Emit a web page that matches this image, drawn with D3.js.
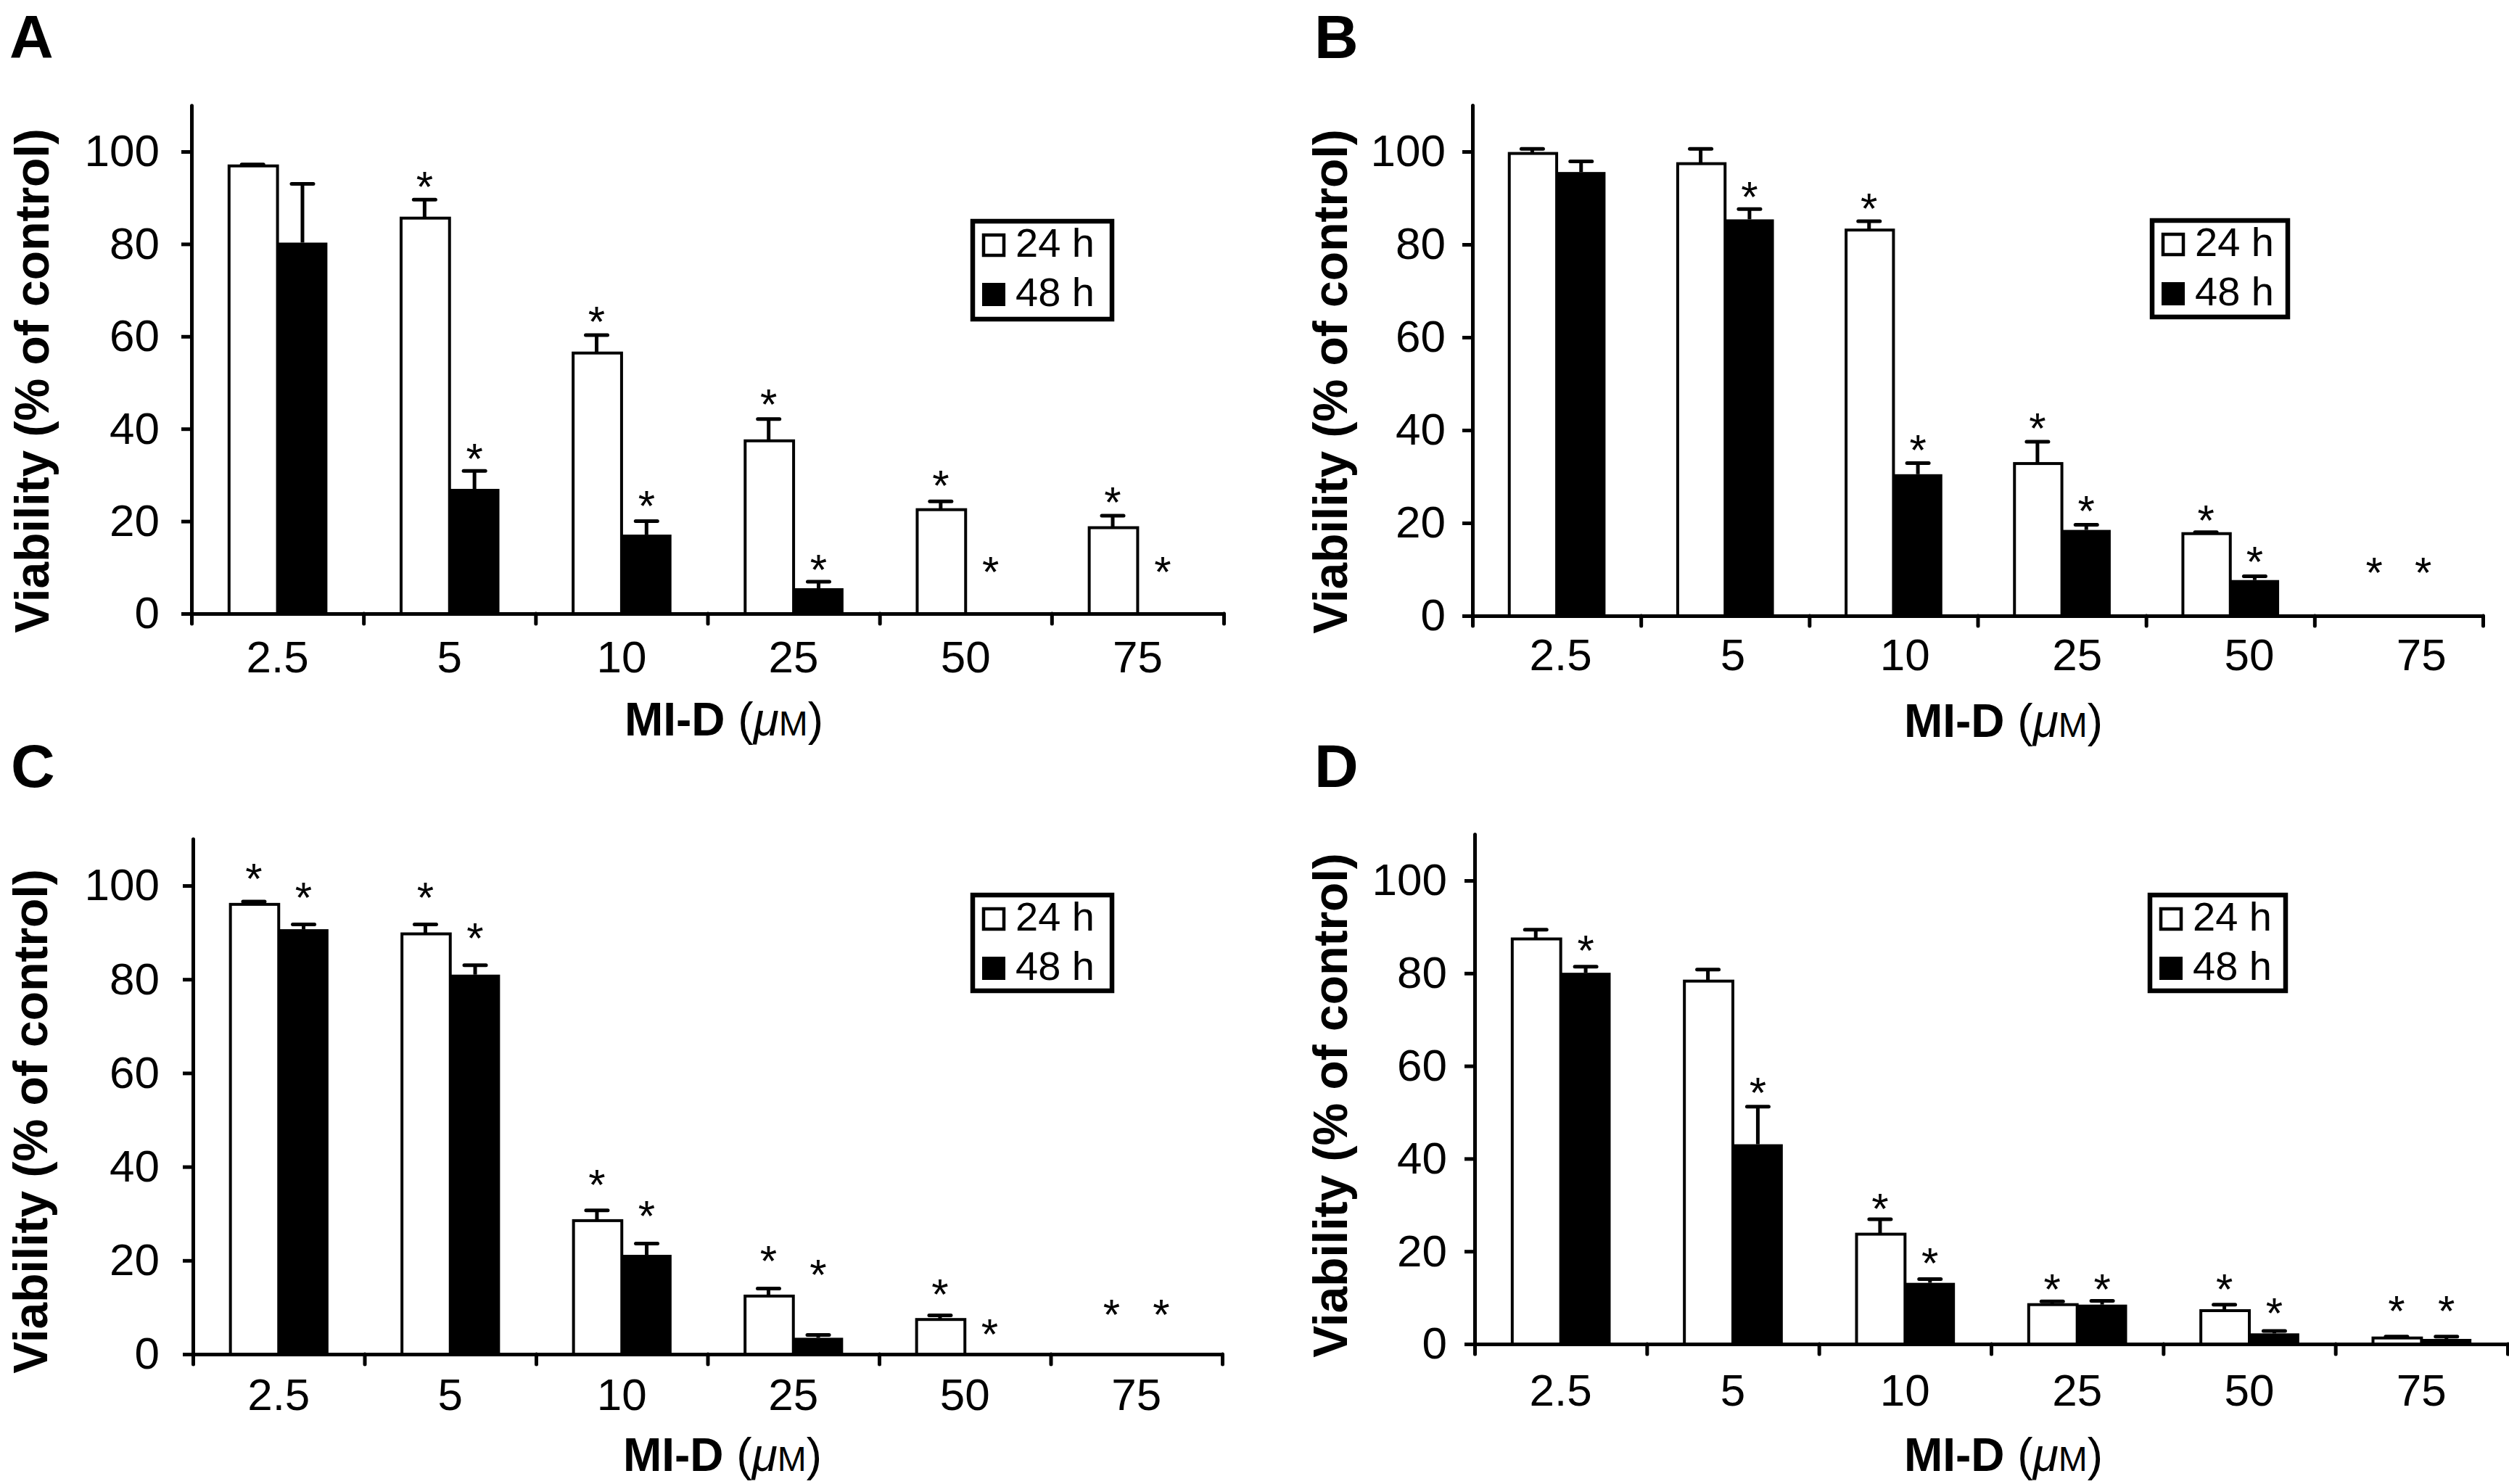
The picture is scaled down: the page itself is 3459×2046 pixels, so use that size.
<!DOCTYPE html>
<html><head><meta charset="utf-8">
<script src="https://cdn.jsdelivr.net/npm/d3@7"></script>
<style>html,body{margin:0;padding:0;background:#fff;} svg{display:block;}</style>
</head><body>
<svg id="chart" width="3459" height="2046"></svg>
<script>
// ---------------- data ----------------
const categories = ["2.5", "5", "10", "25", "50", "75"];
const seriesNames = ["24 h", "48 h"];
const yTicks = [0, 20, 40, 60, 80, 100];
const panelLetters = ["A", "B", "C", "D"];

// Panel A
const A_24 = [96.9, 85.6, 56.4, 37.4, 22.5, 18.6];
const A_24_err = [0.3, 4.0, 3.9, 4.7, 1.8, 2.6];
const A_48 = [80.3, 27.0, 17.1, 5.5, 0, 0];
const A_48_err = [12.7, 3.9, 2.9, 1.4, 0, 0];
const A_24_star = [null, 94.8, 65.5, 47.6, 30.1, 26.4];
const A_48_star = [null, 35.8, 25.6, 11.8, 11.3, 11.3];

// Panel B
const B_24 = [99.6, 97.4, 83.1, 32.8, 17.7, 0];
const B_24_err = [1.0, 3.2, 1.9, 4.7, 0.3, 0];
const B_48 = [95.6, 85.4, 30.5, 18.5, 7.7, 0];
const B_48_err = [2.3, 2.2, 2.4, 1.1, 0.8, 0];
const B_24_star = [null, null, 90.0, 42.7, 22.8, 11.7];
const B_48_star = [null, 92.5, 38.1, 24.9, 13.9, 11.7];

// Panel C
const C_24 = [96.0, 89.7, 28.5, 12.4, 7.4, 0];
const C_24_err = [0.6, 2.0, 2.2, 1.6, 0.9, 0];
const C_48 = [90.7, 81.0, 21.2, 3.5, 0, 0];
const C_48_err = [1.0, 2.0, 2.4, 0.6, 0, 0];
const C_24_star = [103.8, 99.7, 38.4, 22.2, 15.1, 10.8];
const C_48_star = [99.7, 91.1, 31.8, 19.2, 6.5, 10.8];

// Panel D
const D_24 = [87.4, 78.3, 23.7, 8.5, 7.2, 1.3];
const D_24_err = [2.0, 2.5, 3.2, 0.7, 1.3, 0.3];
const D_48 = [80.1, 43.1, 13.2, 8.5, 2.3, 1.1];
const D_48_err = [1.3, 8.1, 0.8, 0.8, 0.5, 0.5];
const D_24_star = [null, null, 31.5, 14.1, 14.1, 9.5];
const D_48_star = [87.3, 56.6, 19.8, 14.1, 9.0, 9.5];

const panelData = [
  {v: [A_24, A_48], e: [A_24_err, A_48_err], s: [A_24_star, A_48_star]},
  {v: [B_24, B_48], e: [B_24_err, B_48_err], s: [B_24_star, B_48_star]},
  {v: [C_24, C_48], e: [C_24_err, C_48_err], s: [C_24_star, C_48_star]},
  {v: [D_24, D_48], e: [D_24_err, D_48_err], s: [D_24_star, D_48_star]}
];

// ---------------- layout ----------------
const FONT = "'Liberation Sans', Arial, Helvetica, sans-serif";
const layouts = [
  {lx: 13, ly: 80, x0: 264, x1: 1687, lab0: 264, lab1: 1687, yZero: 846, y100: 209, ylabX: 67, ylabY: 525, tickGap: 44, xTickBase: 927, xTitleX: 998, xTitleY: 1014, legend: [1338, 302, 198, 141]},
  {lx: 1812, ly: 80, x0: 2030, x1: 3423, lab0: 2033, lab1: 3457, yZero: 849, y100: 209, ylabX: 1857, ylabY: 526, tickGap: 37, xTickBase: 924, xTitleX: 2762, xTitleY: 1016, legend: [2964, 301, 193, 139]},
  {lx: 15, ly: 1085, x0: 266, x1: 1685, lab0: 266, lab1: 1685, yZero: 1867, y100: 1221, ylabX: 65, ylabY: 1546, tickGap: 46, xTickBase: 1944, xTitleX: 996, xTitleY: 2028, legend: [1338, 1231, 198, 138]},
  {lx: 1812, ly: 1085, x0: 2033, x1: 3457, lab0: 2033, lab1: 3457, yZero: 1853, y100: 1214, ylabX: 1857, ylabY: 1524, tickGap: 38, xTickBase: 1938, xTitleX: 2762, xTitleY: 2028, legend: [2961, 1231, 193, 138]}
];

const svg = d3.select("#chart");
svg.append("rect").attr("width", 3459).attr("height", 2046).attr("fill", "#fff");

const fills = ["#fff", "#000"];

layouts.forEach((L, pi) => {
  const D = panelData[pi];
  const g = svg.append("g");
  const unit = (L.yZero - L.y100) / 100;
  const y = d3.scaleLinear().domain([0, 110]).range([L.yZero, L.yZero - 110 * unit]);
  const band = d3.scaleBand().domain(categories).range([L.x0, L.x1]);
  const inner = d3.scaleBand().domain(seriesNames).range([0, band.bandwidth()]).paddingInner(0).paddingOuter(0.724);
  const labBand = d3.scaleBand().domain(categories).range([L.lab0, L.lab1]);
  const bound = d3.scaleLinear().domain([0, categories.length]).range([L.x0, L.x1]);

  // panel letter
  g.append("text").attr("x", L.lx).attr("y", L.ly).text(panelLetters[pi])
    .attr("font-family", FONT).attr("font-weight", "bold").attr("font-size", 84);

  // bars
  seriesNames.forEach((s, si) => {
    const vals = D.v[si];
    const bars = categories.map((c, ci) => ({c, v: vals[ci], e: D.e[si][ci], st: D.s[si][ci]}));
    bars.filter(d => d.v > 0).forEach(d => {
      g.append("rect")
        .attr("x", band(d.c) + inner(s) + (si === 0 ? 2 : 0))
        .attr("width", inner.bandwidth() - (si === 0 ? 2 : 0))
        .attr("y", y(d.v))
        .attr("height", y(0) - y(d.v))
        .attr("fill", fills[si])
        .attr("stroke", "#000")
        .attr("stroke-width", si === 0 ? 4 : 0);
    });
    // error bars
    bars.filter(d => d.v > 0 && d.e > 0).forEach(d => {
      const cx = band(d.c) + inner(s) + inner.bandwidth() / 2;
      g.append("line").attr("x1", cx).attr("x2", cx).attr("y1", y(d.v)).attr("y2", y(d.v + d.e))
        .attr("stroke", "#000").attr("stroke-width", 5);
      g.append("line").attr("x1", cx - 15).attr("x2", cx + 15).attr("y1", y(d.v + d.e)).attr("y2", y(d.v + d.e))
        .attr("stroke", "#000").attr("stroke-width", 5).attr("stroke-linecap", "round");
    });
    // significance stars
    bars.filter(d => d.st !== null).forEach(d => {
      const cx = band(d.c) + inner(s) + inner.bandwidth() / 2;
      g.append("text").attr("x", cx).attr("y", y(d.st) + 0.59 * 60)
        .attr("text-anchor", "middle").attr("font-family", FONT).attr("font-size", 60).text("*");
    });
  });

  // y axis
  const yAxis = g.append("g").attr("transform", `translate(${L.x0},0)`)
    .call(d3.axisLeft(y).tickValues(yTicks).tickSize(14).tickSizeOuter(0).tickPadding(L.tickGap - 14));
  yAxis.select(".domain").attr("stroke-width", 5).attr("stroke-linecap", "round");
  yAxis.selectAll(".tick line").attr("stroke-width", 5);
  yAxis.selectAll(".tick text").attr("font-family", FONT).attr("font-size", 62).attr("fill", "#000");

  // x axis (boundary ticks)
  const xAxis = g.append("g").attr("transform", `translate(0,${L.yZero})`)
    .call(d3.axisBottom(bound).tickValues(d3.range(categories.length + 1)).tickFormat(() => "").tickSize(14).tickSizeOuter(0));
  xAxis.select(".domain").attr("stroke-width", 5);
  xAxis.selectAll(".tick line").attr("stroke-width", 5).attr("stroke-linecap", "round");

  // category labels
  const xLab = g.append("g").attr("transform", `translate(0,${L.xTickBase})`)
    .call(d3.axisBottom(labBand).tickSize(0));
  xLab.select(".domain").remove();
  xLab.selectAll(".tick text").attr("y", 0).attr("dy", 0)
    .attr("font-family", FONT).attr("font-size", 62).attr("fill", "#000");

  // y title
  g.append("text").attr("transform", `translate(${L.ylabX},${L.ylabY}) rotate(-90)`)
    .attr("text-anchor", "middle").attr("font-family", FONT).attr("font-weight", "bold").attr("font-size", 66)
    .text("Viability (% of control)");

  // x title
  const xt = g.append("text").attr("x", L.xTitleX).attr("y", L.xTitleY).attr("text-anchor", "middle")
    .attr("font-family", FONT).attr("font-size", 64);
  xt.append("tspan").attr("font-weight", "bold").text("MI-D");
  xt.append("tspan").text(" (");
  xt.append("tspan").attr("font-style", "italic").text("\u03bc");
  xt.append("tspan").attr("font-size", 48).text("M");
  xt.append("tspan").text(")");

  // legend
  const [bx, by, bw, bh] = L.legend;
  const lg = g.append("g");
  lg.append("rect").attr("x", bx + 3).attr("y", by + 3).attr("width", bw - 6).attr("height", bh - 6)
    .attr("fill", "#fff").attr("stroke", "#000").attr("stroke-width", 6.5);
  seriesNames.forEach((s, si) => {
    const sy = by + 20 + si * 68;
    lg.append("rect").attr("x", bx + 18).attr("y", sy + 2).attr("width", 28).attr("height", 28)
      .attr("fill", fills[si]).attr("stroke", "#000").attr("stroke-width", si === 0 ? 4.5 : 0);
    if (si === 1) lg.select("rect:last-child").attr("x", bx + 16).attr("y", sy).attr("width", 32).attr("height", 32);
    lg.append("text").attr("x", bx + 62).attr("y", sy + 32).attr("font-family", FONT).attr("font-size", 56).text(s);
  });
});
</script>
</body></html>
